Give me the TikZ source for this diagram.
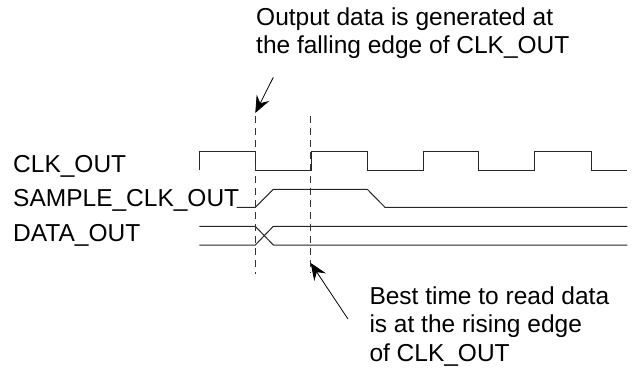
\documentclass[tikz,border=0pt]{standalone}
\usepackage{fontspec}
\setmainfont{Liberation Sans}
\usetikzlibrary{arrows.meta}
\begin{document}
\begin{tikzpicture}[x=1pt,y=-1pt,
  lbl/.style={anchor=base west,inner sep=0pt,font=\fontsize{24.5}{28}\selectfont},
  sig/.style={line width=1pt,draw=black!85},
  guide/.style={line width=1pt,draw=black!80,dash pattern=on 7pt off 5pt},
  pointer/.style={line width=0.8pt,-{Stealth[length=17pt,width=14pt,inset=6pt]}}]
\useasboundingbox (0,0) rectangle (633,368);
% left labels
\node[lbl] (clk) at (13,172.3) {CLK\_OUT};
\node[lbl] (smp) at (13,206.5) {SAMPLE\_CLK\_OUT};
\node[lbl] (dat) at (13,241.3) {DATA\_OUT};
% annotations
\node[lbl] (t1) at (256,25) {Output data is generated at};
\node[lbl] (t2) at (256,53) {the falling edge of CLK\_OUT};
\node[lbl] (b1) at (369.3,304.3) {Best time to read data};
\node[lbl] (b2) at (369.3,332.7) {is at the rising edge};
\node[lbl] (b3) at (369.3,361) {of CLK\_OUT};
% waveforms
\draw[sig] (199.3,170.3) -- (199.3,151.7) -- (255.3,151.7) -- (255.3,170.3) -- (311,170.3) -- (311,151.7) -- (367.3,151.7) -- (367.3,170.3) -- (423.3,170.3) -- (423.3,151.7) -- (478.7,151.7) -- (478.7,170.3) -- (534.3,170.3) -- (534.3,151.7) -- (591,151.7) -- (591,170.3) -- (627.3,170.3);
\draw[sig] (236.7,207.3) -- (255.3,207.3) -- (273.3,189.3) -- (367.3,189.3) -- (385,207.3) -- (627.3,207.3);
\draw[sig] (199.3,226.3) -- (255.3,226.3) -- (273.3,245) -- (627.3,245);
\draw[sig] (199.3,245) -- (255.3,245) -- (273.3,226.3) -- (627.3,226.3);
% guide lines
\draw[guide] (255.3,116) -- (255.3,274);
\draw[guide] (310.7,116) -- (310.7,273);
% pointers
\coordinate (a1s) at (273.3,77.3);
\coordinate (a1e) at (255.3,113);
\coordinate (a2s) at (348,319);
\coordinate (a2e) at (310.7,263);
\draw[pointer] (a1s) -- (a1e);
\draw[pointer] (a2s) -- (a2e);
\end{tikzpicture}
\end{document}
